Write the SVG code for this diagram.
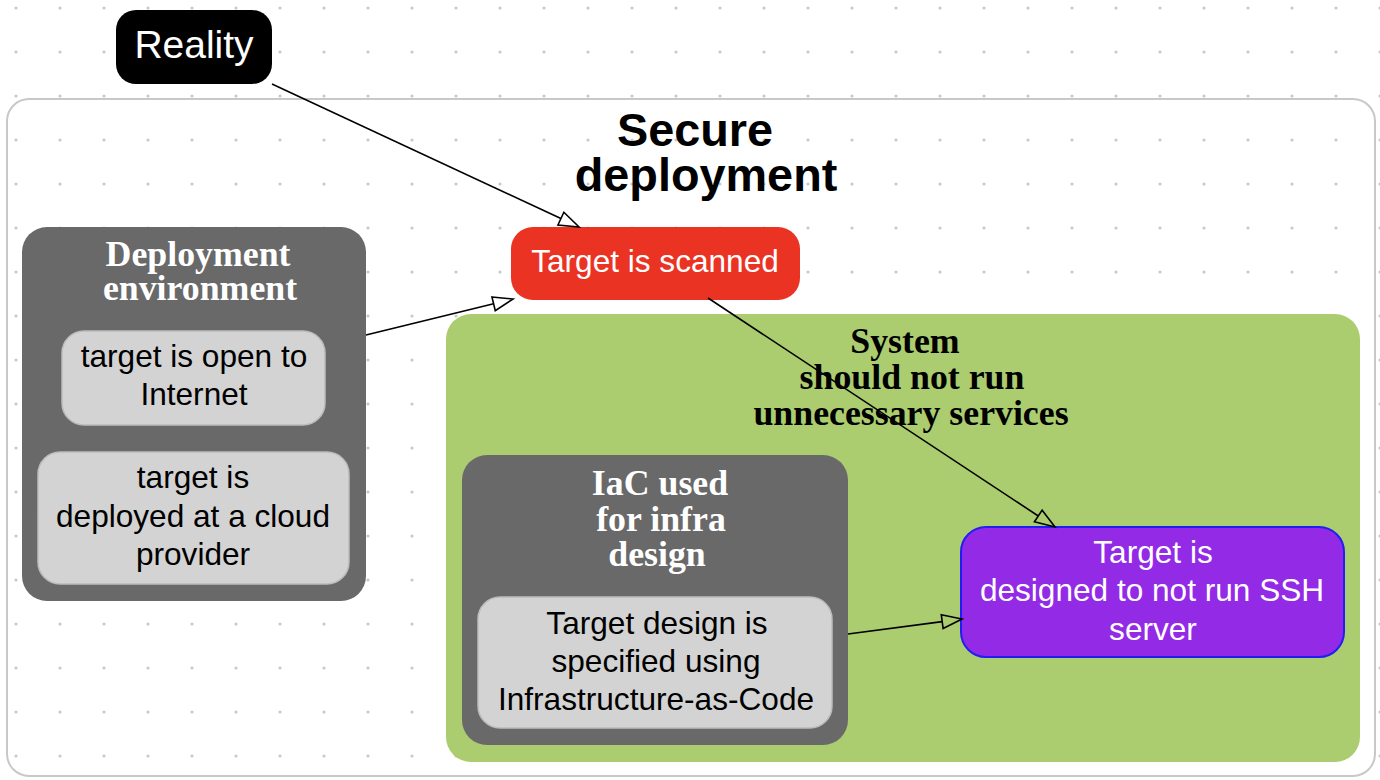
<svg xmlns="http://www.w3.org/2000/svg" width="1380" height="780" viewBox="0 0 1380 780">
<defs>
<pattern id="dots" patternUnits="userSpaceOnUse" x="0" y="0" width="44" height="44">
<circle cx="16" cy="8" r="1.6" fill="#c8c8c8"/>
</pattern>
<marker id="open" markerUnits="userSpaceOnUse" markerWidth="24" markerHeight="18" viewBox="-2 -9 24 18" refX="0" refY="0" orient="auto" overflow="visible">
<path d="M0,-7 L20,0 L0,7 Z" fill="none" stroke="#000" stroke-width="1.6" stroke-linejoin="miter"/>
</marker>
</defs>
<style>
.sans{font-family:"Liberation Sans",Arial,Helvetica,sans-serif;}
.serif{font-family:"Liberation Serif","Times New Roman",serif;font-weight:bold;}
.body{font-size:31.6px;text-anchor:middle;}
.ttl{font-size:35.8px;text-anchor:middle;}
.w{fill:#fff;}
.k{fill:#000;}
.dark{fill:#696969;}
.light{fill:#d3d3d3;stroke:#bcbcbc;stroke-width:1.5;}
.edge{fill:none;stroke:#000;stroke-width:1.6;marker-end:url(#open);}
</style>
<rect x="0" y="0" width="1380" height="780" fill="#fff"/>
<rect x="0" y="0" width="1380" height="780" fill="url(#dots)"/>

<g id="secure-deployment">
<rect x="7" y="99" width="1368" height="677" rx="22" fill="none" stroke="#c8c8c8" stroke-width="2"/>
<text class="sans" font-size="46.8" font-weight="bold" text-anchor="middle"><tspan x="695" y="146">Secure</tspan><tspan x="706" y="191">deployment</tspan></text>
</g>

<g id="reality">
<rect x="116" y="10" width="156" height="74" rx="20" fill="#000"/>
<text class="sans w" x="194" y="58" font-size="39" text-anchor="middle">Reality</text>
</g>

<g id="system">
<rect x="446" y="314" width="914" height="448" rx="25" fill="#abcc6f"/>
<text class="serif ttl k"><tspan x="905" y="353">System</tspan><tspan x="912" y="389">should not run</tspan><tspan x="911" y="425">unnecessary services</tspan></text>
</g>

<g id="deployment-environment">
<rect class="dark" x="22" y="227" width="344" height="374" rx="25"/>
<text class="serif ttl w"><tspan x="198" y="266">Deployment</tspan><tspan x="200" y="300">environment</tspan></text>
</g>

<g id="open-to-internet">
<rect class="light" x="62" y="331" width="263" height="94" rx="22"/>
<text class="sans body"><tspan x="194" y="367">target is open to</tspan><tspan x="194" y="405">Internet</tspan></text>
</g>

<g id="cloud-provider">
<rect class="light" x="38" y="452" width="311" height="132" rx="22"/>
<text class="sans body"><tspan x="193" y="488">target is</tspan><tspan x="193" y="527">deployed at a cloud</tspan><tspan x="193" y="565">provider</tspan></text>
</g>

<g id="iac">
<rect class="dark" x="462" y="455" width="386" height="290" rx="25"/>
<text class="serif ttl w"><tspan x="660" y="495">IaC used</tspan><tspan x="661" y="531">for infra</tspan><tspan x="657" y="566">design</tspan></text>
</g>

<g id="iac-spec">
<rect class="light" x="478" y="597" width="354" height="131" rx="22"/>
<text class="sans body"><tspan x="657" y="634">Target design is</tspan><tspan x="656" y="672">specified using</tspan><tspan x="656" y="710">Infrastructure-as-Code</tspan></text>
</g>

<g id="target-scanned">
<rect x="511" y="227" width="289" height="73" rx="22" fill="#eb3324"/>
<text class="sans body w" x="655" y="272">Target is scanned</text>
</g>

<g id="no-ssh">
<rect x="961" y="527" width="383" height="130" rx="25" fill="#932ae6" stroke="#1f1ff5" stroke-width="2"/>
<text class="sans body w"><tspan x="1153" y="563">Target is</tspan><tspan x="1152" y="601">designed to not run SSH</tspan><tspan x="1153" y="640">server</tspan></text>
</g>

<g id="connectors">
<path class="edge" d="M272,84 L560.9,218.6"/>
<path class="edge" d="M366,335 L493.6,303.8"/>
<path class="edge" d="M708,298 L1038.3,516"/>
<path class="edge" d="M848,634 L942.2,621.6"/>
</g>
</svg>
